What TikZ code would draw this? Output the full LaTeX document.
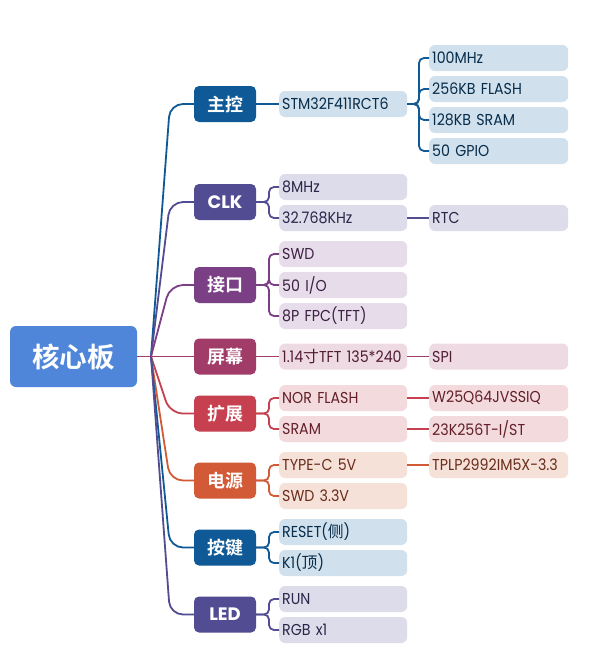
\documentclass[tikz,border=0pt]{standalone}
\usepackage{fontspec}
\setmainfont{Poppins}[FakeStretch=0.9]
\newfontfamily\pop{Poppins}
\newfontfamily\cjk{Noto Sans CJK SC}
\newfontfamily\cjkb{Noto Sans CJK SC Bold}
\definecolor{cRoot}{HTML}{4F86DA}
\definecolor{cBlue}{HTML}{0F5A96}
\definecolor{cClk}{HTML}{524C93}
\definecolor{cIf}{HTML}{7A3F85}
\definecolor{cScr}{HTML}{A13C68}
\definecolor{cExt}{HTML}{C6404F}
\definecolor{cPwr}{HTML}{D25A36}
\definecolor{lBlue}{HTML}{D0E0EC}
\definecolor{lClk}{HTML}{DDDCEA}
\definecolor{lIf}{HTML}{E6DCEA}
\definecolor{lScr}{HTML}{EEDAE2}
\definecolor{lExt}{HTML}{F3DADD}
\definecolor{lPwr}{HTML}{F6E1D9}
\tikzset{
  rootbox/.style={fill=cRoot, rounded corners=6pt, minimum width=127pt, minimum height=61pt, inner sep=0pt, text=white, font=\cjkb\fontsize{27.5}{28}\selectfont},
  lone/.style={fill=#1, rounded corners=5pt, minimum width=62pt, minimum height=36pt, inner sep=0pt, text=white, font=\cjkb\fontsize{18}{18}\selectfont},
  ltwo/.style={fill=#1, rounded corners=6pt, anchor=west, minimum height=26pt, text width=122pt, inner xsep=3pt, inner ysep=0pt, align=left, font=\fontsize{15.8}{16}\selectfont},
  lthree/.style={fill=#1, rounded corners=6pt, anchor=west, minimum height=26pt, text width=133pt, inner xsep=3pt, inner ysep=0pt, align=left, font=\fontsize{15.8}{16}\selectfont},
  tBlue/.style={text=cBlue!50!black}, tClk/.style={text=cClk!50!black}, tIf/.style={text=cIf!50!black},
  tScr/.style={text=cScr!50!black}, tExt/.style={text=cExt!50!black}, tPwr/.style={text=cPwr!50!black},
  conn/.style={draw=#1, line width=1.8pt, rounded corners=5pt},
  trunk/.style={draw=#1, line width=1.8pt, rounded corners=13pt}
}
\begin{document}
\begin{tikzpicture}[x=1pt,y=-1pt]
\useasboundingbox[fill=white] (0,0) rectangle (602,664);
% root
\node[rootbox] (root) at (73.5,356.5) {核心板};
\coordinate (bp) at (151,356.5);
% level 1
\node[lone=cBlue] (zk) at (225,104) {主控};
\node[lone=cClk] (clk) at (225,202) {\pop\bfseries CLK};
\node[lone=cIf] (jk) at (225,285) {接口};
\node[lone=cScr] (pm) at (225,356.5) {屏幕};
\node[lone=cExt] (kz) at (225,413.5) {扩展};
\node[lone=cPwr] (dy) at (225,480.5) {电源};
\node[lone=cBlue] (aj) at (225,547.5) {按键};
\node[lone=cClk] (led) at (225,614.5) {\pop\bfseries LED};
% level 2
\node[ltwo=lBlue, tBlue] (stm) at (279,104) {STM32F411RCT6};
\node[ltwo=lClk, tClk] (ck8) at (279,187) {8MHz};
\node[ltwo=lClk, tClk] (ck32) at (279,218) {32.768KHz};
\node[ltwo=lIf, tIf] (swd) at (279,254) {SWD};
\node[ltwo=lIf, tIf] (io) at (279,285) {50 I/O};
\node[ltwo=lIf, tIf] (fpc) at (279,316) {8P FPC(TFT)};
\node[ltwo=lScr, tScr] (tft) at (279,356.5) {1.14{\cjk 寸}TFT 135*240};
\node[ltwo=lExt, tExt] (nor) at (279,398) {NOR FLASH};
\node[ltwo=lExt, tExt] (sram) at (279,429) {SRAM};
\node[ltwo=lPwr, tPwr] (typec) at (279,465) {TYPE-C 5V};
\node[ltwo=lPwr, tPwr] (swdv) at (279,496) {SWD 3.3V};
\node[ltwo=lBlue, tBlue] (rst) at (279,532) {RESET({\cjk 侧})};
\node[ltwo=lBlue, tBlue] (kone) at (279,563) {K1({\cjk 顶})};
\node[ltwo=lClk, tClk] (run) at (279,599) {RUN};
\node[ltwo=lClk, tClk] (rgb) at (279,630) {RGB x1};
% level 3
\node[lthree=lBlue, tBlue] (mhz) at (429,58) {100MHz};
\node[lthree=lBlue, tBlue] (flash) at (429,89) {256KB FLASH};
\node[lthree=lBlue, tBlue] (sr) at (429,120) {128KB SRAM};
\node[lthree=lBlue, tBlue] (gpio) at (429,151) {50 GPIO};
\node[lthree=lClk, tClk] (rtc) at (429,218) {RTC};
\node[lthree=lScr, tScr] (spi) at (429,356.5) {SPI};
\node[lthree=lExt, tExt] (w25) at (429,398) {W25Q64JVSSIQ};
\node[lthree=lExt, tExt] (k23) at (429,429) {23K256T-I/ST};
\node[lthree=lPwr, tPwr] (tplp) at (429,465) {TPLP2992IM5X-3.3};
% trunks
\foreach \n/\c in {zk/cBlue, clk/cClk, jk/cIf, kz/cExt, dy/cPwr, aj/cBlue, led/cClk}{
  \draw[trunk=\c] (root.east) -- (bp);
  \draw[trunk=\c] (bp) -- (170,0 |- \n.west) -- (\n.west);
}
\draw[trunk=cScr] (root.east) -- (pm.west);
% level1 -> level2
\draw[conn=cBlue] (zk.east) -- (stm.west);
\foreach \n in {ck8, ck32}{\draw[conn=cClk] (clk.east) -- (269,0 |- clk.east) |- (\n.west);}
\foreach \n in {swd, io, fpc}{\draw[conn=cIf] (jk.east) -- (269,0 |- jk.east) |- (\n.west);}
\draw[conn=cScr] (pm.east) -- (tft.west);
\foreach \n in {nor, sram}{\draw[conn=cExt] (kz.east) -- (269,0 |- kz.east) |- (\n.west);}
\foreach \n in {typec, swdv}{\draw[conn=cPwr] (dy.east) -- (269,0 |- dy.east) |- (\n.west);}
\foreach \n in {rst, kone}{\draw[conn=cBlue] (aj.east) -- (269,0 |- aj.east) |- (\n.west);}
\foreach \n in {run, rgb}{\draw[conn=cClk] (led.east) -- (269,0 |- led.east) |- (\n.west);}
% level2 -> level3
\foreach \n in {mhz, flash, sr, gpio}{\draw[conn=cBlue] (stm.east) -- (419,0 |- stm.east) |- (\n.west);}
\draw[conn=cClk] (ck32.east) -- (rtc.west);
\draw[conn=cScr] (tft.east) -- (spi.west);
\draw[conn=cExt] (nor.east) -- (w25.west);
\draw[conn=cExt] (sram.east) -- (k23.west);
\draw[conn=cPwr] (typec.east) -- (tplp.west);
\end{tikzpicture}
\end{document}
